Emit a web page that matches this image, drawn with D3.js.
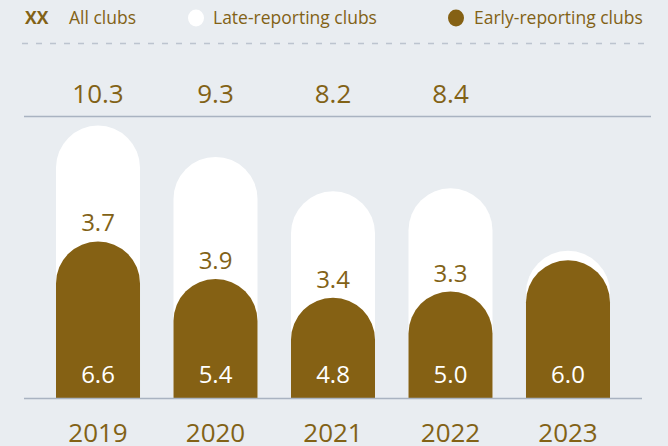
<!DOCTYPE html>
<html><head><meta charset="utf-8">
<script src="https://cdn.jsdelivr.net/npm/d3@7"></script>
<style>html,body{margin:0;padding:0;background:#e9edf1;}svg{display:block;}</style>
</head><body>
<svg id="c" width="668" height="446"></svg>
<script>
const years = ["2019","2020","2021","2022","2023"];
const early = [6.6, 5.4, 4.8, 5.0, 6.0];
const late = [3.7, 3.9, 3.4, 3.3, 0.3];
const lateLabels = ["3.7","3.9","3.4","3.3",""];
const totals = ["10.3","9.3","8.2","8.4",""];

const brown = "#856114", txt = "#826216", lineC = "#a9b3c1";
const font = "'Open Sans', 'Noto Sans', sans-serif";
const svg = d3.select("#c");

const x = d3.scaleBand().domain(years).range([56, 610]).paddingInner(0.285).paddingOuter(0);
const y = d3.scaleLinear().domain([1.6, 10.3]).range([398, 125.6]);
const bw = x.bandwidth(), r = bw / 2;

function capPath(x0, yTop, yBot) {
  const p = d3.path();
  p.moveTo(x0, yBot);
  p.lineTo(x0, yTop + r);
  p.arc(x0 + r, yTop + r, r, Math.PI, 0);
  p.lineTo(x0 + bw, yBot);
  p.closePath();
  return p.toString();
}

// legend
const lg = svg.append("g").attr("font-family", font).attr("font-size", 17.5).attr("fill", txt);
lg.append("text").attr("x", 25).attr("y", 24).attr("font-weight", "bold").text("XX");
lg.append("text").attr("x", 69).attr("y", 24).text("All clubs");
lg.append("ellipse").attr("cx", 196).attr("cy", 18).attr("rx", 8).attr("ry", 8.5).attr("fill", "#fff");
lg.append("text").attr("x", 213).attr("y", 24).text("Late-reporting clubs");
lg.append("ellipse").attr("cx", 456).attr("cy", 18).attr("rx", 8).attr("ry", 8.5).attr("fill", brown);
lg.append("text").attr("x", 474).attr("y", 24).text("Early-reporting clubs");

svg.append("line").attr("x1", 22).attr("x2", 651).attr("y1", 43.5).attr("y2", 43.5)
  .attr("stroke", "#bcc4cf").attr("stroke-width", 1.5).attr("stroke-dasharray", "6,8");

// totals
svg.append("g").selectAll("text").data(years).join("text")
  .attr("x", d => x(d) + r).attr("y", 102.5).attr("text-anchor", "middle")
  .attr("font-family", font).attr("font-size", 26).attr("fill", txt)
  .text((d, i) => totals[i]);

svg.append("line").attr("x1", 24).attr("x2", 651).attr("y1", 116.5).attr("y2", 116.5)
  .attr("stroke", lineC).attr("stroke-width", 1.5);

// white (total) bars
svg.append("g").selectAll("path").data(years).join("path")
  .attr("d", (d, i) => capPath(x(d), y(early[i] + late[i]), y.range()[0]))
  .attr("fill", "#fff");
// brown bars
svg.append("g").selectAll("path").data(years).join("path")
  .attr("d", (d, i) => capPath(x(d), y(early[i]), y.range()[0]))
  .attr("fill", brown);

// late labels
svg.append("g").selectAll("text").data(years).join("text")
  .attr("x", d => x(d) + r).attr("y", (d, i) => y(early[i]) - 10).attr("text-anchor", "middle")
  .attr("font-family", font).attr("font-size", 24).attr("fill", txt)
  .text((d, i) => lateLabels[i]);
// early labels
svg.append("g").selectAll("text").data(years).join("text")
  .attr("x", d => x(d) + r).attr("y", 383).attr("text-anchor", "middle")
  .attr("font-family", font).attr("font-size", 24).attr("fill", "#fff")
  .text((d, i) => early[i].toFixed(1));

svg.append("line").attr("x1", 24).attr("x2", 642).attr("y1", 398.5).attr("y2", 398.5)
  .attr("stroke", lineC).attr("stroke-width", 1.5);

// year axis
const ax = svg.append("g").attr("transform", "translate(0,398)")
  .call(d3.axisBottom(x).tickSize(0).tickPadding(0));
ax.select(".domain").remove();
ax.selectAll("text").attr("font-family", font).attr("font-size", 26).attr("fill", txt)
  .attr("dy", null).attr("y", 43.5);
</script>
</body></html>
